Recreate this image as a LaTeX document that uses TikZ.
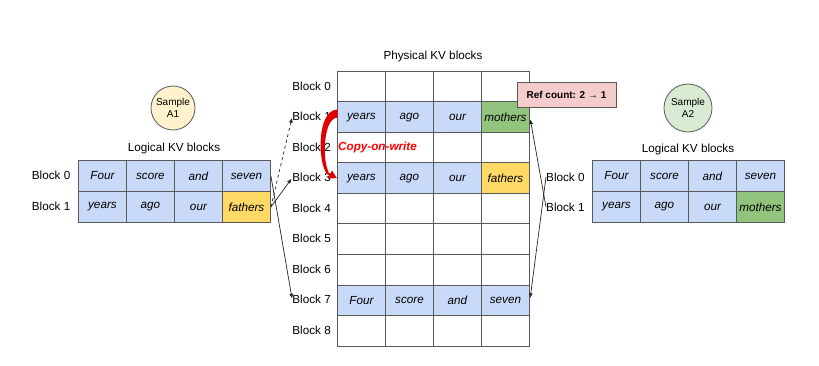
\documentclass[tikz,border=0pt]{standalone}
\usepackage{fontspec}
\setmainfont{Liberation Sans}
\usetikzlibrary{arrows.meta}
\definecolor{cblue}{HTML}{C9DAF8}
\definecolor{cgreen}{HTML}{93C47D}
\definecolor{cyellow}{HTML}{FFD966}
\definecolor{cpink}{HTML}{F4CCCC}
\definecolor{cAone}{HTML}{FFF2CC}
\definecolor{cAtwo}{HTML}{D9EAD3}
\definecolor{gridc}{HTML}{595959}
\definecolor{cowred}{HTML}{E00000}
\begin{document}
\begin{tikzpicture}[x=1pt,y=-1pt,
  cell/.style={draw=gridc, line width=0.9pt, minimum width=48pt, minimum height=30.5pt, inner sep=0pt, font=\fontsize{11.7}{14}\selectfont\itshape, anchor=north west},
  lcell/.style={cell, minimum height=31pt},
  lbl/.style={font=\fontsize{11.7}{14}\selectfont, inner sep=0pt},
  smp/.style={circle, draw=gridc, line width=0.8pt, inner sep=0pt, align=center, font=\fontsize{10}{11.5}\selectfont},
  arr/.style={-{Triangle[length=4.5pt,width=3.5pt]}, line width=0.7pt, draw=black!85, shorten >=1.5pt}
]
\useasboundingbox (0,0) rectangle (819,366);

% ---------- Physical KV blocks ----------
\node[lbl] (ptitle) at (433,56) {Physical KV blocks};
\foreach \r in {0,2,4,5,6,8}{
  \foreach \c in {0,1,2,3}{
    \node[cell] (p\r-\c) at ({337+48*\c},{71+30.5*\r}) {};
  }
}
% Block 1
\node[cell, fill=cblue]  (p1-0) at (337,101.5) {years};
\node[cell, fill=cblue]  (p1-1) at (385,101.5) {ago};
\node[cell, fill=cblue]  (p1-2) at (433,101.5) {our};
\node[cell, fill=cgreen] (p1-3) at (481,101.5) {mothers};
% Block 3
\node[cell, fill=cblue]   (p3-0) at (337,162.5) {years};
\node[cell, fill=cblue]   (p3-1) at (385,162.5) {ago};
\node[cell, fill=cblue]   (p3-2) at (433,162.5) {our};
\node[cell, fill=cyellow] (p3-3) at (481,162.5) {fathers};
% Block 7
\node[cell, fill=cblue] (p7-0) at (337,284.5) {Four};
\node[cell, fill=cblue] (p7-1) at (385,284.5) {score};
\node[cell, fill=cblue] (p7-2) at (433,284.5) {and};
\node[cell, fill=cblue] (p7-3) at (481,284.5) {seven};
\foreach \r in {0,...,8}{
  \node[lbl, anchor=east] (pl\r) at (331,{86.25+30.5*\r}) {Block \r};
}

% ---------- Ref count ----------
\node[draw=gridc, line width=0.8pt, fill=cpink, minimum width=99pt, minimum height=25pt, inner sep=0pt,
      font=\fontsize{10}{12}\selectfont\bfseries] (ref) at (566.5,94.5) {Ref count: 2 → 1};

% ---------- Sample A1 ----------
\node[smp, fill=cAone, minimum size=44pt] (sa1) at (173,108) {Sample\\A1};
\node[lbl] (ltitle) at (174,148) {Logical KV blocks};
\node[lcell, fill=cblue] (l0-0) at (78,160) {Four};
\node[lcell, fill=cblue] (l0-1) at (126,160) {score};
\node[lcell, fill=cblue] (l0-2) at (174,160) {and};
\node[lcell, fill=cblue] (l0-3) at (222,160) {seven};
\node[lcell, fill=cblue] (l1-0) at (78,191) {years};
\node[lcell, fill=cblue] (l1-1) at (126,191) {ago};
\node[lcell, fill=cblue] (l1-2) at (174,191) {our};
\node[lcell, fill=cyellow] (l1-3) at (222,191) {fathers};
\node[lbl, anchor=east] (ll0) at (70.5,175.5) {Block 0};
\node[lbl, anchor=east] (ll1) at (70.5,206.5) {Block 1};

% ---------- Sample A2 ----------
\node[smp, fill=cAtwo, minimum size=48pt] (sa2) at (688,108) {Sample\\A2};
\node[lbl] (rtitle) at (688,149) {Logical KV blocks};
\node[lcell, fill=cblue] (r0-0) at (592,160) {Four};
\node[lcell, fill=cblue] (r0-1) at (640,160) {score};
\node[lcell, fill=cblue] (r0-2) at (688,160) {and};
\node[lcell, fill=cblue] (r0-3) at (736,160) {seven};
\node[lcell, fill=cblue] (r1-0) at (592,191) {years};
\node[lcell, fill=cblue] (r1-1) at (640,191) {ago};
\node[lcell, fill=cblue] (r1-2) at (688,191) {our};
\node[lcell, fill=cgreen] (r1-3) at (736,191) {mothers};
\node[lbl, anchor=west] (rl0) at (546,177) {Block 0};
\node[lbl, anchor=west] (rl1) at (546,207) {Block 1};

% ---------- Connectors ----------
\draw[arr, dashed] (l1-3.east) -- (pl1.west);
\draw[arr] (l1-3.east) -- (pl3.west);
\draw[arr] (l0-3.east) -- (pl7.west);
\draw[arr, shorten >=2.5pt] (rl0.west) -- (p7-3.east);
\draw[arr, shorten >=2.5pt] (rl1.west) -- (p1-3.east);

% ---------- Copy-on-write (tapered red arrow) ----------
\fill[cowred] (337.5,109.5) .. controls (316,110) and (318,165) .. (327,173.5)
  -- (328.5,171.5) .. controls (323,163) and (322,119) .. (337.5,117.5) -- cycle;
\coordinate (cowtip) at (326,172.5);
\draw[cowred, line width=2pt, -{Triangle[length=8pt,width=8.5pt]}] (cowtip) -- (p3-0.west);
\node[lbl, anchor=west, text=red, font=\fontsize{11.7}{14}\selectfont\bfseries\itshape] (cow) at (338,147) {Copy-on-write};
\end{tikzpicture}
\end{document}
